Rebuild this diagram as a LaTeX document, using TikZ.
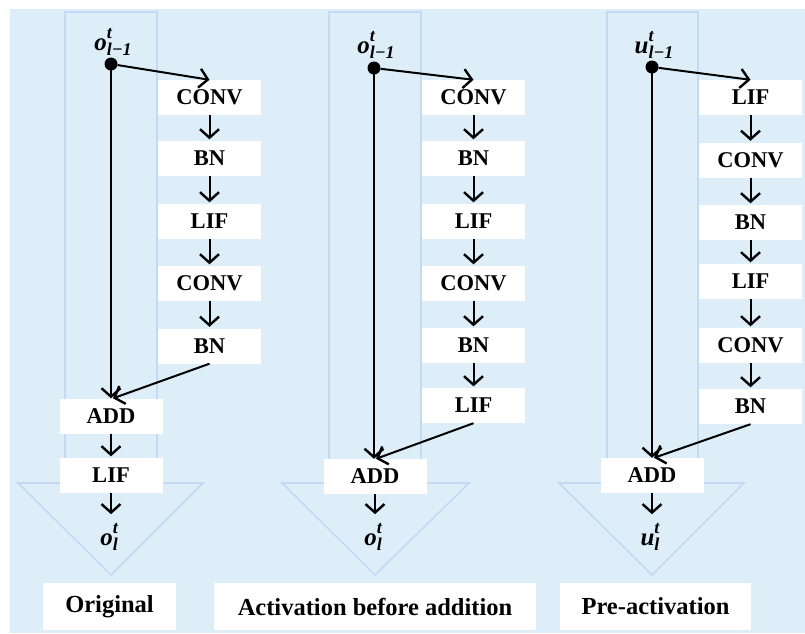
\documentclass[tikz,border=0pt]{standalone}
\usepackage{fontspec}
\setmainfont{Liberation Serif}
\usetikzlibrary{arrows.meta}
\definecolor{bgblue}{HTML}{DDEEF9}
\definecolor{edgeblue}{HTML}{C4D9F3}
\newcommand{\boxfont}{\fontsize{22.5}{24}\selectfont\bfseries}
\newcommand{\capfont}{\fontsize{24.5}{26}\selectfont\bfseries}
\newcommand{\sigfont}{\fontsize{25}{26}\selectfont\bfseries\itshape}
\newcommand{\subfont}{\fontsize{18}{18}\selectfont\bfseries}
% variable with super- and subscript, set in bold text fonts
\newcommand{\sigvar}[3]{#1\raisebox{-0.22em}{\makebox[0pt][l]{\subfont\raisebox{0.95em}{\itshape #2}}\subfont #3}}
\tikzset{
  stage/.style={fill=white, minimum width=103pt, minimum height=35pt, inner sep=0pt, font=\boxfont},
  caption/.style={fill=white, minimum height=47pt, inner sep=0pt, font=\capfont},
  sig/.style={inner sep=0pt, font=\sigfont},
  outsig/.style={inner ysep=9pt, inner xsep=0pt, font=\sigfont},
  dot/.style={circle, fill=black, minimum size=13pt, inner sep=0pt},
  flow/.style={line width=2pt, -{Straight Barb[length=8.5pt,width=19pt,line width=2.4pt]}},
  shell/.style={draw=edgeblue, line width=1.6pt, fill=bgblue},
}
\begin{document}
\begin{tikzpicture}[x=1pt, y=-1pt]
\useasboundingbox (0,0) rectangle (805,633);
\fill[bgblue] (10,9) rectangle (805,633);
% arrow-shaped outlines
\draw[shell] (65,12) -- (65,483) -- (18,483) -- (111,575) -- (203,483) -- (157,483) -- (157,12) -- cycle;
\draw[shell] (329,12) -- (329,483) -- (282,483) -- (375,575) -- (469,483) -- (421,483) -- (421,12) -- cycle;
\draw[shell] (607,12) -- (607,483) -- (559,483) -- (652,575) -- (744,483) -- (698,483) -- (698,12) -- cycle;

% ---------- column 1: Original ----------
\node[sig] (in1) at (113,42) {\sigvar{o}{t}{\textit{l}−1}};
\node[dot] (d1) at (111,64) {};
\node[stage] (a1) at (209.5,97.5) {CONV};
\node[stage] (a2) at (209.5,158.5) {BN};
\node[stage] (a3) at (209.5,221.5) {LIF};
\node[stage] (a4) at (209.5,283.5) {CONV};
\node[stage] (a5) at (209.5,346) {BN};
\node[stage] (add1) at (111,416) {ADD};
\node[stage] (lif1) at (111,475.5) {LIF};
\node[outsig] (out1) at (109,537) {\sigvar{o}{t}{\textit{l}}};
\draw[flow] (d1) -- (a1.north);
\draw[flow, shorten >=1.5pt] (a1) -- (a2);
\draw[flow, shorten >=1.5pt] (a2) -- (a3);
\draw[flow, shorten >=1.5pt] (a3) -- (a4);
\draw[flow, shorten >=1.5pt] (a4) -- (a5);
\draw[flow] (d1.center) -- (add1.north);
\draw[flow] (a5.south) -- ([xshift=2pt]add1.north);
\draw[flow, shorten >=1.5pt] (add1) -- (lif1);
\draw[flow] (lif1.south) -- ([xshift=2pt]out1.north);

% ---------- column 2: Activation before addition ----------
\node[sig] (in2) at (376,45) {\sigvar{o}{t}{\textit{l}−1}};
\node[dot] (d2) at (374,68) {};
\node[stage] (b1) at (473.5,97.5) {CONV};
\node[stage] (b2) at (473.5,158.5) {BN};
\node[stage] (b3) at (473.5,221.5) {LIF};
\node[stage] (b4) at (473.5,283.5) {CONV};
\node[stage] (b5) at (473.5,345.5) {BN};
\node[stage] (b6) at (473.5,405.5) {LIF};
\node[stage] (add2) at (375,476.5) {ADD};
\node[outsig] (out2) at (373,537) {\sigvar{o}{t}{\textit{l}}};
\draw[flow] (d2) -- (b1.north);
\draw[flow, shorten >=1.5pt] (b1) -- (b2);
\draw[flow, shorten >=1.5pt] (b2) -- (b3);
\draw[flow, shorten >=1.5pt] (b3) -- (b4);
\draw[flow, shorten >=1.5pt] (b4) -- (b5);
\draw[flow, shorten >=1.5pt] (b5) -- (b6);
\draw[flow] (d2.center) -- ([xshift=-1pt]add2.north);
\draw[flow] (b6.south) -- ([xshift=1pt]add2.north);
\draw[flow] (add2.south) -- ([xshift=2pt]out2.north);

% ---------- column 3: Pre-activation ----------
\node[sig] (in3) at (654,45) {\sigvar{u}{t}{\textit{l}−1}};
\node[dot] (d3) at (652,67) {};
\node[stage] (c1) at (750.5,97.5) {LIF};
\node[stage] (c2) at (750.5,160) {CONV};
\node[stage] (c3) at (750.5,222.5) {BN};
\node[stage] (c4) at (750.5,281.5) {LIF};
\node[stage] (c5) at (750.5,345.5) {CONV};
\node[stage] (c6) at (750.5,406.5) {BN};
\node[stage] (add3) at (652,475.5) {ADD};
\node[outsig] (out3) at (650,537) {\sigvar{u}{t}{\textit{l}}};
\draw[flow] (d3) -- (c1.north);
\draw[flow, shorten >=1.5pt] (c1) -- (c2);
\draw[flow, shorten >=1.5pt] (c2) -- (c3);
\draw[flow, shorten >=1.5pt] (c3) -- (c4);
\draw[flow, shorten >=1.5pt] (c4) -- (c5);
\draw[flow, shorten >=1.5pt] (c5) -- (c6);
\draw[flow] (d3.center) -- (add3.north);
\draw[flow] (c6.south) -- ([xshift=2pt]add3.north);
\draw[flow] (add3.south) -- ([xshift=2pt]out3.north);

% ---------- captions ----------
\node[caption, minimum width=133pt] (cap1) at (109.5,606.5) {Original};
\node[caption, minimum width=322pt] (cap2) at (375,606.5) {Activation before addition};
\node[caption, minimum width=191pt] (cap3) at (655.5,606.5) {Pre-activation};
\end{tikzpicture}
\end{document}
